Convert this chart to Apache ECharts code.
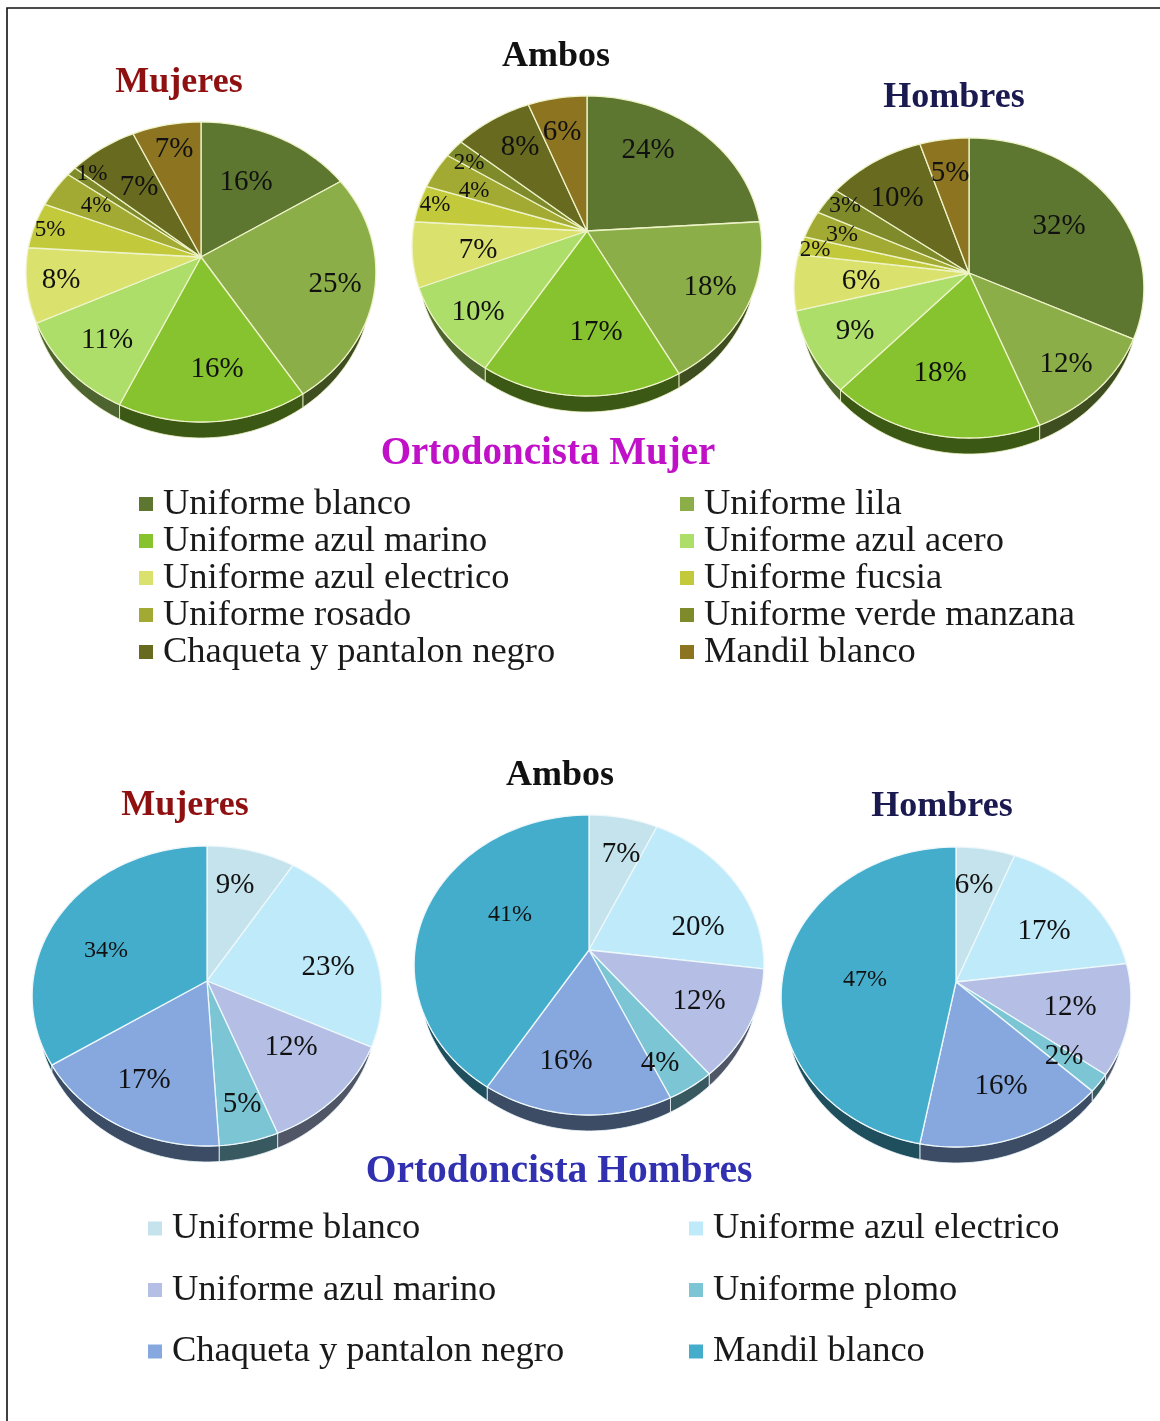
<!DOCTYPE html>
<html>
<head>
<meta charset="utf-8">
<title>Ortodoncista</title>
<script src="https://cdn.jsdelivr.net/npm/echarts@6/dist/echarts.min.js"></script>
<style>
    html,body{margin:0;padding:0;background:#fff;}
    #chart{width:1160px;height:1421px;}
</style>
</head>
<body>
<div id="chart"></div>
<script>
// --- datos: orden de las tres tortas = Mujeres, Ambos, Hombres ---
var mujerCategories = ['Uniforme blanco','Uniforme lila','Uniforme azul marino','Uniforme azul acero','Uniforme azul electrico','Uniforme fucsia','Uniforme rosado','Uniforme verde manzana','Chaqueta y pantalon negro','Mandil blanco'];
var mujerMujeres = [16,25,16,11,8,5,4,1,7,7];
var mujerAmbos   = [24,18,17,10,7,4,4,2,8,6];
var mujerHombres = [32,12,18,9,6,2,3,3,10,5];
var mujerColors  = ['#5d7731','#8cae48','#86c32f','#aede6a','#dbe16d','#c2c93a','#a3aa33','#7f8a2a','#686b1f','#8c7420'];

// el espacio final separa estos nombres de los del primer grupo en la leyenda
var hombreCategories = ['Uniforme blanco ','Uniforme azul electrico ','Uniforme azul marino ','Uniforme plomo ','Chaqueta y pantalon negro ','Mandil blanco '];
var hombreMujeres = [9,23,12,5,17,34];
var hombreAmbos   = [7,20,12,4,16,41];
var hombreHombres = [6,17,12,2,16,47];
var hombreColors  = ['#c5e3ec','#bfeafa','#b5bfe5','#7cc5d5','#86a8de','#45adcc'];

// --- disposicion: centro de cada torta y sitio de cada etiqueta [x,y,tamano] ---
var pieLayouts = [
    {cx:201,cy:257,spots:[[246,180,29],[335,282,29],[217,367,29],[107,338,29],[61,278,29],[50,228,23],[96,204,23],[92,172,23],[139,185,29],[174,147,29]]},
    {cx:587,cy:231,spots:[[648,148,29],[710,285,29],[596,330,29],[478,310,29],[478,248,29],[435,203,23],[474,189,23],[469,161,23],[520,145,29],[562,130,29]]},
    {cx:969,cy:273,spots:[[1059,224,29],[1066,362,29],[940,371,29],[855,329,29],[861,279,29],[815,248,23],[842,233,24],[845,204,24],[897,196,29],[950,171,29]]},
    {cx:207,cy:981,spots:[[235,883,29],[328,965,29],[291,1045,29],[242,1102,29],[144,1078,29],[106,949,24]]},
    {cx:589,cy:950,spots:[[621,852,29],[698,925,29],[699,999,29],[660,1061,29],[566,1059,29],[510,913,24]]},
    {cx:956,cy:982,spots:[[974,883,29],[1044,929,29],[1070,1005,29],[1064,1054,29],[1001,1084,29],[865,978,24]]}
];

var FONT = '"Liberation Serif", serif';
var RX = 174, RY = 148.5, TILT = 0.1, DEPTH = 16;
var WALL_START = 0.32; // fraccion de vuelta donde empieza a verse la pared

// punto del borde de la torta en perspectiva, a = fraccion de vuelta
function rimPoint(cx,cy,a){
    var t = a*2*Math.PI, u = Math.sin(t), v = Math.cos(t), w = 1+TILT*v;
    return [cx+RX*u/w, cy-RY*v/w];
}

function wallDepth(a){
    return DEPTH*Math.sqrt(Math.sin(Math.PI*(a-WALL_START)/(1-2*WALL_START)));
}

function darken(color,k){
    var c = echarts.color.parse(color);
    return 'rgb('+Math.round(c[0]*k)+','+Math.round(c[1]*k)+','+Math.round(c[2]*k)+')';
}

function makeRender(layoutOffset,edgeColor){
    return function(params,api){
        var pie = api.value(0), val = api.value(1), start = api.value(2), slot = api.value(3);
        var lay = pieLayouts[layoutOffset+pie];
        var color = api.visual('color');
        var end = start+val/100;
        var children = [];

        // pared lateral, solo la parte delantera se ve
        var from = Math.max(start,WALL_START), to = Math.min(end,1-WALL_START);
        if(to>from){
            var top = [], bottom = [];
            var n = Math.ceil((to-from)*240)+1;
            for(var i=0;i<=n;i++){
                var a = from+(to-from)*i/n;
                var p = rimPoint(lay.cx,lay.cy,a);
                top.push(p);
                bottom.unshift([p[0],p[1]+wallDepth(a)]);
            }
            children.push({
                type:'polygon',
                shape:{points:top.concat(bottom)},
                style:{fill:darken(color,0.45),stroke:edgeColor,lineWidth:0.8}
            });
        }

        // cara superior
        var pts = [[lay.cx,lay.cy]];
        var steps = Math.ceil(val*2.4)+1;
        for(var j=0;j<=steps;j++){
            pts.push(rimPoint(lay.cx,lay.cy,start+(end-start)*j/steps));
        }
        children.push({
            type:'polygon',
            shape:{points:pts},
            style:{fill:color,stroke:edgeColor,lineWidth:1.3,lineJoin:'round'},
            z2:5
        });

        var spot = lay.spots[slot];
        children.push({
            type:'text',
            x:spot[0],y:spot[1]+2,
            style:{text:val+'%',fontFamily:FONT,fontSize:spot[2],fill:'#111',align:'center',verticalAlign:'middle'},
            z2:100
        });
        return {type:'group',children:children};
    };
}

function buildSeries(categories,colors,pies,layoutOffset,edgeColor){
    var out = [];
    for(var c=0;c<categories.length;c++){
        var rows = [];
        for(var k=0;k<pies.length;k++){
            var before = 0;
            for(var b=0;b<c;b++) before += pies[k][b];
            rows.push([k,pies[k][c],before/100,c]);
        }
        out.push({
            type:'custom',
            name:categories[c],
            coordinateSystem:'none',
            silent:true,
            animation:false,
            itemStyle:{color:colors[c]},
            data:rows,
            renderItem:makeRender(layoutOffset,edgeColor)
        });
    }
    return out;
}

function makeTitle(text,x,y,size,color){
    return {text:text,left:x,top:y+3,padding:0,textAlign:'center',textVerticalAlign:'middle',
        textStyle:{fontFamily:FONT,fontWeight:'bold',fontSize:size,color:color}};
}

function makeLegend(names,x,y,gap){
    return {
        data:names,orient:'vertical',left:x,top:y,padding:0,itemGap:gap,
        itemWidth:14,itemHeight:14,icon:'rect',selectedMode:false,
        textStyle:{fontFamily:FONT,fontSize:36.5,color:'#1a1a1a',padding:[0,0,0,5]}
    };
}

var chart = echarts.init(document.getElementById('chart'),null,{renderer:'canvas'});
chart.setOption({
    backgroundColor:'#fff',
    animation:false,
    title:[
        makeTitle('Mujeres',179,80,36,'#8e1010'),
        makeTitle('Ambos',556,54,36,'#111111'),
        makeTitle('Hombres',954,95,36,'#1a1a50'),
        makeTitle('Ortodoncista Mujer',548,451,39,'#c010c8'),
        makeTitle('Mujeres',185,803,36,'#8e1010'),
        makeTitle('Ambos',560,773,36,'#111111'),
        makeTitle('Hombres',942,804,36,'#1a1a50'),
        makeTitle('Ortodoncista Hombres',559,1169,39.5,'#3030b0')
    ],
    legend:[
        makeLegend([mujerCategories[0],mujerCategories[2],mujerCategories[4],mujerCategories[6],mujerCategories[8]],139,485.5,0),
        makeLegend([mujerCategories[1],mujerCategories[3],mujerCategories[5],mujerCategories[7],mujerCategories[9]],680,485.5,0),
        makeLegend([hombreCategories[0],hombreCategories[2],hombreCategories[4]],148,1210,24.5),
        makeLegend([hombreCategories[1],hombreCategories[3],hombreCategories[5]],689,1210,24.5)
    ],
    graphic:[{
        type:'polyline',
        shape:{points:[[7,1421],[7,8],[1160,8]]},
        style:{stroke:'#111',lineWidth:1.6,fill:null},
        silent:true
    }],
    series:buildSeries(mujerCategories,mujerColors,[mujerMujeres,mujerAmbos,mujerHombres],0,'#eef3c8')
        .concat(buildSeries(hombreCategories,hombreColors,[hombreMujeres,hombreAmbos,hombreHombres],3,'#eef8fb'))
});
</script>
</body>
</html>
